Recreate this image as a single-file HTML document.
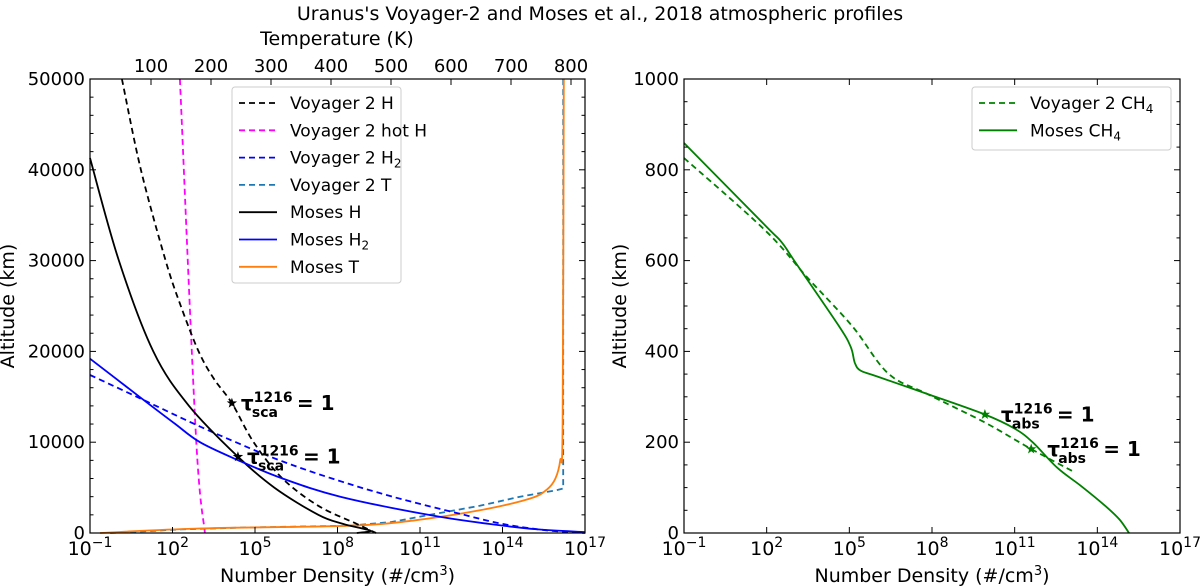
<!DOCTYPE html>
<html><head><meta charset="utf-8"><style>
html,body{margin:0;padding:0;background:#fff;}
svg{display:block;font-family:"DejaVu Sans","Liberation Sans",sans-serif;}
</style></head><body>
<svg id="fig" width="1200" height="588" viewBox="0 0 1200 588" xmlns="http://www.w3.org/2000/svg">
<text x="600" y="20" font-size="19" text-anchor="middle">Uranus's Voyager-2 and Moses et al., 2018 atmospheric profiles</text>
<g id="L"></g>
<g id="R"></g>
</svg>
<script>
// ---- data (left panel): [altitude km, log10 number density] ----
const voyH = [[50000,0.16],[40000,0.85],[30000,1.75],[25000,2.3],[20000,2.95],[17000,3.5],[14300,4.16],[10000,4.95],[6000,6.0],[3000,7.3],[1000,8.7],[0,9.4]];
const voyHotH = [[50000,2.27],[10800,2.85],[0,3.18]];
const voyH2 = [[17400,-1],[15000,0.7],[12000,2.8],[10000,4.3],[8000,5.9],[6000,7.8],[4000,10.0],[2000,12.6],[1000,14.0],[300,15.6],[0,17]];
const mosesH2 = [[19200,-1],[15000,0.8],[12000,2.1],[10000,3.0],[8000,4.4],[6000,6.0],[4000,8.1],[2000,11.3],[1000,13.5],[400,15.3],[100,17]];
const mosesH = [[41300,-1],[30000,0.05],[20000,1.3],[14000,2.6],[8400,4.38],[5000,5.7],[2000,7.3],[1000,8.2],[500,8.9],[200,9.2],[0,8.7]];
// temperature profiles: [altitude km, T in K]
const voyT = [[0,32],[400,150],[600,250],[800,430],[1200,500],[2000,565],[3000,648],[4000,715],[4700,775],[4900,787],[50000,787]];
const mosesT = [[0,15],[500,180],[800,430],[1400,540],[2500,648],[3800,732],[4800,760],[6000,774],[8000,782],[12000,786],[50000,788]];
const leftStars = [[14300,4.16],[8400,4.38]];
// ---- data (right panel) ----
const mosesCH4 = [[859,-1],[678,1.94],[640,2.55],[600,3.0],[456,4.62],[410,5.05],[375,5.2],[358,5.4],[345,6.0],[304,7.94],[261,9.92],[230,11.0],[200,11.65],[144,12.54],[104,13.4],[59,14.3],[30,14.8],[0,15.15]];
const voyCH4 = [[826,-1],[667,1.94],[563,3.47],[456,5.1],[352,6.4],[307,7.8],[244,9.9],[185,11.6],[133,13.2]];
const rightStars = [[261,9.92],[185,11.6]];
const xTicks = [-1,2,5,8,11,14,17];
const xExp = ["−1","2","5","8","11","14","17"];
const leftYTicks = [0,10000,20000,30000,40000,50000];
const rightYTicks = [0,200,400,600,800,1000];
const tempTicks = [100,200,300,400,500,600,700,800];

const NS="http://www.w3.org/2000/svg";
function mk(parent,tag,attrs,text){const e=document.createElementNS(NS,tag);for(const k in attrs)e.setAttribute(k,attrs[k]);if(text!==undefined)e.textContent=text;parent.appendChild(e);return e;}

function panel(g,x0,x1,y0,y1,ymax,yMinorStep){
  const X=v=>x0+(v-(-1))/18*(x1-x0);
  const Y=a=>y1-a/ymax*(y1-y0);
  return {X,Y,x0,x1,y0,y1,ymax,yMinorStep,g};
}
function smooth(pts){
  let d='M'+pts[0][0].toFixed(1)+','+pts[0][1].toFixed(1);
  for(let i=0;i<pts.length-1;i++){
    const p0=pts[i-1]||pts[i],p1=pts[i],p2=pts[i+1],p3=pts[i+2]||p2;
    const c1=[p1[0]+(p2[0]-p0[0])/6,p1[1]+(p2[1]-p0[1])/6];
    const c2=[p2[0]-(p3[0]-p1[0])/6,p2[1]-(p3[1]-p1[1])/6];
    d+=' C'+c1[0].toFixed(1)+','+c1[1].toFixed(1)+' '+c2[0].toFixed(1)+','+c2[1].toFixed(1)+' '+p2[0].toFixed(1)+','+p2[1].toFixed(1);
  }
  return d;
}
function pathD(arr,X,Y){return smooth(arr.map(p=>[X(p[1]),Y(p[0])]));}

function axes(P,yTicks,topTicks){
  const g=P.g;
  xTicks.forEach((t,i)=>{
    const x=P.X(t);
    const tk=mk(g,'line',{x1:x,x2:x,y1:P.y1,y2:P.y1-6,stroke:'#000','stroke-width':1});
    
    
    if(topTicks){const tt=mk(g,'line',{x1:x,x2:x,y1:P.y0,y2:P.y0+6,stroke:'#000','stroke-width':1});
      }
    const tl=mk(g,'text',{x:x,y:P.y1+22,'font-size':19,'text-anchor':'middle'});
    
    
    mk(tl,'tspan',{},'10');
    mk(tl,'tspan',{dy:-8,'font-size':14},xExp[i]);
  });
  for(let a=0;a<=P.ymax;a+=P.yMinorStep){
    const y=P.Y(a);const major=yTicks.includes(a);const L=major?6:3.5;
    const t1=mk(g,'line',{x1:P.x0,x2:P.x0+L,y1:y,y2:y,stroke:'#000','stroke-width':1});
    
    const t2=mk(g,'line',{x1:P.x1,x2:P.x1-L,y1:y,y2:y,stroke:'#000','stroke-width':1});
    
  }
  yTicks.forEach(a=>{
    const tl=mk(g,'text',{x:P.x0-5,y:P.Y(a)+6,'font-size':18,'text-anchor':'end'},String(a));
    
    
  });
  const fr=mk(g,'rect',{x:P.x0,y:P.y0,width:P.x1-P.x0,height:P.y1-P.y0,fill:'none',stroke:'#000','stroke-width':1.2});
  
  const xl=mk(g,'text',{x:(P.x0+P.x1)/2,y:582,'font-size':19,'text-anchor':'middle'});
  
  xl.appendChild(document.createTextNode('Number Density (#/cm'));
  mk(xl,'tspan',{dy:-7,'font-size':13},'3');
  mk(xl,'tspan',{dy:7},')');
  const yl=mk(g,'text',{x:0,y:0,'font-size':19,'text-anchor':'middle',transform:`translate(${P.x0-(P.ymax>2000?76:58)},${(P.y0+P.y1)/2}) rotate(-90)`},'Altitude (km)');
  
}
function line(P,arr,color,dash,name,w){
  const p=mk(P.g,'path',{d:pathD(arr,P.X,P.Y),fill:'none',stroke:color,'stroke-width':w||1.8,'stroke-dasharray':dash||'none','stroke-linejoin':'round'});
  
  
  return p;
}
function star(P,x,y,color,name){
  const pts=[];for(let i=0;i<10;i++){const r=i%2?2.2:5.5;const a=-Math.PI/2+i*Math.PI/5;pts.push((x+r*Math.cos(a)).toFixed(1)+','+(y+r*Math.sin(a)).toFixed(1));}
  const s=mk(P.g,'polygon',{points:pts.join(' '),fill:color});
  
  
}
function tauLabel(P,x,y,sub,name){
  const t=mk(P.g,'text',{x:x,y:y,'font-size':20,'font-weight':'bold'});
  
  
  mk(t,'tspan',{},'τ');
  mk(t,'tspan',{dy:-8,'font-size':14},'1216');
  mk(t,'tspan',{x:x+11,dy:15,'font-size':14},sub);
  mk(t,'tspan',{x:x+56,dy:-7},'= 1');
}
function legend(g,x,y,w,h,items){
  const b=mk(g,'rect',{x:x,y:y,width:w,height:h,rx:3,fill:'#fff','fill-opacity':0.85,stroke:'#ccc','stroke-width':1});
  
  items.forEach((it,i)=>{
    const cy=y+16+i*27.3;
    const ln=mk(g,'line',{x1:x+7,x2:x+45,y1:cy,y2:cy,stroke:it[1],'stroke-width':1.8,'stroke-dasharray':it[2]||'none'});
    
    const t=mk(g,'text',{x:x+58,y:cy+6,'font-size':17});
    
    mk(t,'tspan',{},it[0]);
    if(it[3]){mk(t,'tspan',{dy:4,'font-size':12},it[3]);}
  });
}

// LEFT
const L=panel(document.getElementById('L'),90,585,79,533,50000,2000);
const TX=T=>151+(T-100)*0.6;
const tPath=arr=>smooth(arr.map(p=>[TX(p[1]),L.Y(p[0])]));
line(L,voyHotH,'#ff00ff','6,4','voyager-hot-h-line');
let p=mk(L.g,'path',{d:voyT.map((q,i)=>(i?'L':'M')+TX(q[1]).toFixed(1)+','+L.Y(q[0]).toFixed(1)).join(' '),fill:'none',stroke:'#1f77b4','stroke-width':1.8,'stroke-dasharray':'6,4'});

p=mk(L.g,'path',{d:tPath(mosesT),fill:'none',stroke:'#ff7f0e','stroke-width':1.8});

line(L,voyH,'#000','6,4','voyager-h-line');
line(L,voyH2,'#0000ff','6,4','voyager-h2-line');
line(L,mosesH,'#000',null,'moses-h-line');
line(L,mosesH2,'#0000ff',null,'moses-h2-line');
leftStars.forEach((s,i)=>{star(L,L.X(s[1]),L.Y(s[0]),'#000','tau-star');});
tauLabel(L,L.X(leftStars[0][1])+9,L.Y(leftStars[0][0])+7,'sca','tau-sca-label-voyager');
tauLabel(L,L.X(leftStars[1][1])+9,L.Y(leftStars[1][0])+7,'sca','tau-sca-label-moses');
axes(L,leftYTicks,false);
tempTicks.forEach(T=>{
  const x=TX(T);
  const t=mk(L.g,'line',{x1:x,x2:x,y1:79,y2:85,stroke:'#000','stroke-width':1});
  
  const tl=mk(L.g,'text',{x:x,y:72,'font-size':18,'text-anchor':'middle'},String(T));
  
});
let tt=mk(L.g,'text',{x:337,y:45,'font-size':19,'text-anchor':'middle'},'Temperature (K)');

legend(L.g,232,87,169,196,[
 ['Voyager 2 H','#000','6,4'],['Voyager 2 hot H','#ff00ff','6,4'],['Voyager 2 H','#0000ff','6,4','2'],
 ['Voyager 2 T','#1f77b4','6,4'],['Moses H','#000'],['Moses H','#0000ff',null,'2'],['Moses T','#ff7f0e']]);

// RIGHT
const R=panel(document.getElementById('R'),684,1180,79,533,1000,50);
line(R,voyCH4,'#008000','6,4','voyager-ch4-line');
line(R,mosesCH4,'#008000',null,'moses-ch4-line');
rightStars.forEach(s=>star(R,R.X(s[1]),R.Y(s[0]),'#008000','tau-star'));
tauLabel(R,R.X(rightStars[0][1])+16,R.Y(rightStars[0][0])+7,'abs','tau-abs-label-moses');
tauLabel(R,R.X(rightStars[1][1])+16,R.Y(rightStars[1][0])+7,'abs','tau-abs-label-voyager');
axes(R,rightYTicks,true);
legend(R.g,972,87,199,63,[['Voyager 2 CH','#008000','6,4','4'],['Moses CH','#008000',null,'4']]);
</script>
</body></html>
